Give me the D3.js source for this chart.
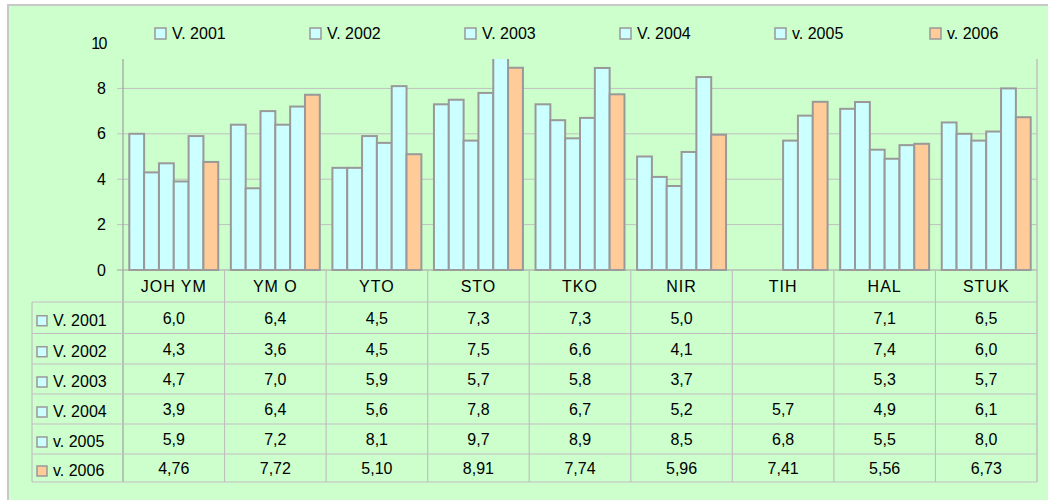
<!DOCTYPE html>
<html><head><meta charset="utf-8">
<script src="https://cdn.jsdelivr.net/npm/d3@7"></script>
<style>
html,body{margin:0;padding:0;background:#fff;}
svg{display:block;}
text{font-family:"Liberation Sans",Arial,sans-serif;fill:#000;}
</style></head>
<body>
<svg id="chart" width="1048" height="500"></svg>
<script>
const categories = ["JOH YM","YM O","YTO","STO","TKO","NIR","TIH","HAL","STUK"];
const seriesNames = ["V. 2001","V. 2002","V. 2003","V. 2004","v. 2005","v. 2006"];
const v2001 = [6.0,6.4,4.5,7.3,7.3,5.0,null,7.1,6.5];
const v2002 = [4.3,3.6,4.5,7.5,6.6,4.1,null,7.4,6.0];
const v2003 = [4.7,7.0,5.9,5.7,5.8,3.7,null,5.3,5.7];
const v2004 = [3.9,6.4,5.6,7.8,6.7,5.2,5.7,4.9,6.1];
const v2005 = [5.9,7.2,8.1,9.7,8.9,8.5,6.8,5.5,8.0];
const v2006 = [4.76,7.72,5.10,8.91,7.74,5.96,7.41,5.56,6.73];
const yTicks = [0,2,4,6,8,10];

const seriesValues = [v2001,v2002,v2003,v2004,v2005,v2006];
const seriesColors = ["#CCFFFF","#CCFFFF","#CCFFFF","#CCFFFF","#CCFFFF","#FFCC99"];
const seriesDecimals = [1,1,1,1,1,2];

const svg = d3.select("#chart");
const gridColor = "#C0C0C0";
const barStroke = "#999999";

// chart background + frame
svg.append("rect").attr("x",8).attr("y",5).attr("width",1060).attr("height",510)
  .attr("fill","#CCFFCC").attr("stroke","#C8C8C8").attr("stroke-width",2);

const plotLeft = 123, plotRight = 1037, plotTop = 59;
const x = d3.scaleBand().domain(categories).range([plotLeft, plotRight]).padding(0);
const y = d3.scaleLinear().domain([0,10]).range([270, 43]);
const xs = d3.scaleBand().domain(d3.range(6)).range([6.3, x.bandwidth()-6.3]).padding(0);

// gridlines (below 10)
const gridTicks = yTicks.filter(t => y(t) >= plotTop);
svg.append("g").selectAll("line").data(gridTicks.filter(t=>t>0)).join("line")
  .attr("x1", plotLeft-6).attr("x2", plotRight)
  .attr("y1", d=>y(d)).attr("y2", d=>y(d))
  .attr("stroke", gridColor).attr("stroke-width",1);

// y tick labels
svg.append("g").selectAll("text").data(yTicks).join("text")
  .attr("x", 106).attr("y", d=>y(d)+5.5)
  .attr("text-anchor","end").attr("font-size",16)
  .attr("letter-spacing", d=> d>=10 ? -1.5 : 0)
  .text(d=>d);

// bars
svg.append("defs").append("clipPath").attr("id","plotclip")
  .append("rect").attr("x",plotLeft).attr("y",plotTop).attr("width",plotRight-plotLeft).attr("height",y(0)-plotTop+1);

const barsG = svg.append("g").attr("clip-path","url(#plotclip)");
seriesValues.forEach((vals, si) => {
  barsG.append("g").selectAll("rect")
    .data(vals.map((v,i)=>({cat:categories[i], v})).filter(d=>d.v!=null))
    .join("rect")
    .attr("x", d=>x(d.cat)+xs(si))
    .attr("width", xs.bandwidth())
    .attr("y", d=>y(d.v))
    .attr("height", d=>y(0)-y(d.v))
    .attr("fill", seriesColors[si])
    .attr("stroke", barStroke).attr("stroke-width",2);
});

// axis lines
svg.append("line").attr("x1",plotLeft-6).attr("x2",plotRight).attr("y1",y(0)).attr("y2",y(0))
  .attr("stroke","#A0A0A0").attr("stroke-width",1.2);
svg.append("line").attr("x1",plotLeft).attr("x2",plotLeft).attr("y1",plotTop).attr("y2",482)
  .attr("stroke","#A0A0A0").attr("stroke-width",1.2);
svg.append("line").attr("x1",plotRight).attr("x2",plotRight).attr("y1",plotTop).attr("y2",482)
  .attr("stroke",gridColor).attr("stroke-width",1.5);

// data table
const rowEdges = [302, 333.5, 364, 394, 424, 454, 482];
const tableLeft = 32;
const tg = svg.append("g");
tg.selectAll("line.v").data(categories.slice(1)).join("line")
  .attr("x1", d=>x(d)).attr("x2", d=>x(d)).attr("y1", y(0)).attr("y2", 482)
  .attr("stroke", gridColor).attr("stroke-width",1.2);
tg.append("line").attr("x1",tableLeft).attr("x2",tableLeft).attr("y1",rowEdges[0]).attr("y2",482)
  .attr("stroke",gridColor).attr("stroke-width",1.2);
tg.selectAll("line.h").data(rowEdges).join("line")
  .attr("x1", tableLeft).attr("x2", plotRight)
  .attr("y1", d=>d).attr("y2", d=>d)
  .attr("stroke", gridColor).attr("stroke-width",1.2);
tg.selectAll("text.cat").data(categories).join("text")
  .attr("x", d=>x(d)+x.bandwidth()/2).attr("y", (y(0)+rowEdges[0])/2+6)
  .attr("text-anchor","middle").attr("font-size",16).attr("letter-spacing",1)
  .text(d=>d);
const fmt = (v,dec) => v==null ? "" : d3.format("."+dec+"f")(v).replace(".",",");
seriesNames.forEach((name, si) => {
  const cy = (rowEdges[si]+rowEdges[si+1])/2;
  tg.append("rect").attr("x",37).attr("y",cy-2).attr("width",10).attr("height",10)
    .attr("fill",seriesColors[si]).attr("stroke",barStroke).attr("stroke-width",1.5);
  tg.append("text").attr("x",53).attr("y",cy+8).attr("font-size",16).text(name);
  tg.append("g").selectAll("text").data(seriesValues[si]).join("text")
    .attr("x",(d,i)=>x(categories[i])+x.bandwidth()/2)
    .attr("y",cy+6).attr("text-anchor","middle").attr("font-size",16)
    .text(d=>fmt(d, seriesDecimals[si]));
});

// legend
const legX = d3.scalePoint().domain(seriesNames).range([155, 930]);
const lg = svg.append("g").selectAll("g").data(seriesNames).join("g")
  .attr("transform", d=>`translate(${legX(d)},28)`);
lg.append("rect").attr("width",11).attr("height",11)
  .attr("fill",(d,i)=>seriesColors[i]).attr("stroke",barStroke).attr("stroke-width",1.5);
lg.append("text").attr("x",17).attr("y",11).attr("font-size",16).text(d=>d);
</script>
</body></html>
